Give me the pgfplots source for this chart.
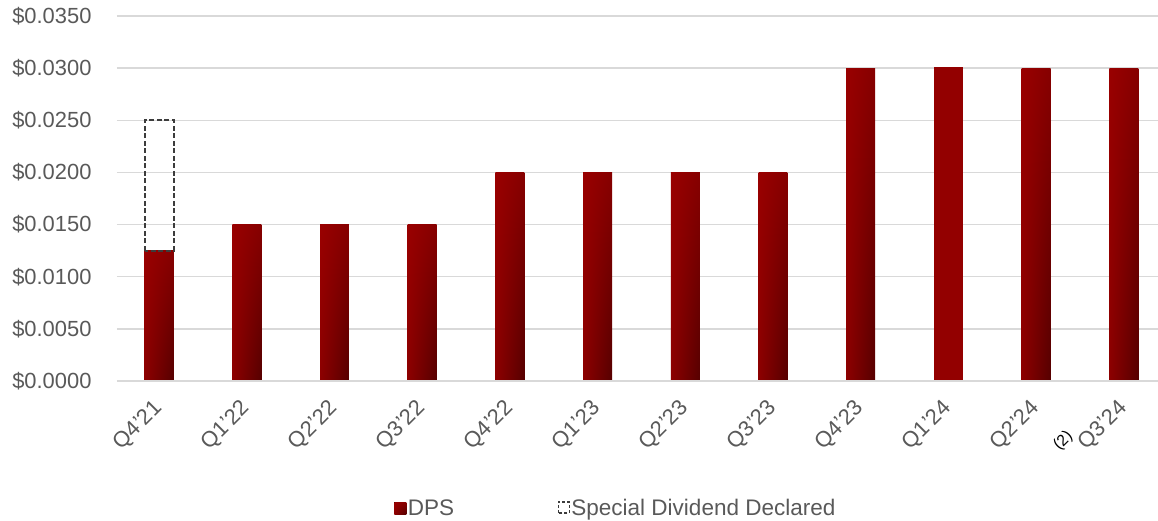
\documentclass[border=0pt]{standalone}
\usepackage{fontspec}
\setmainfont{Liberation Sans}
\usepackage{pgfplots}
\usepackage{pgfplotstable}
\pgfplotsset{compat=1.18}
\usetikzlibrary{shadings}

\definecolor{txtgray}{HTML}{595959}
\definecolor{gridgray}{HTML}{D9D9D9}
\definecolor{redA}{HTML}{990000}
\definecolor{redB}{HTML}{860000}
\definecolor{redC}{HTML}{8C0000}
\definecolor{redD}{HTML}{560000}
\definecolor{redFlat}{HTML}{930000}
\definecolor{dashgray}{HTML}{3C3C3C}

\tikzset{
  dpsbar/.style={draw=none, upper left=redA, upper right=redB, lower left=redC, lower right=redD},
  specialbox/.style={draw=dashgray, line width=2bp, dash pattern=on 5bp off 2.5bp},
}

% dividend per share by quarter (index 0 = Q4'21)
\pgfplotstableread{
x  y
0  0.0125
1  0.0150
2  0.0150
3  0.0150
4  0.0200
5  0.0200
6  0.0200
7  0.0200
8  0.0300
9  0.0301
10 0.0300
11 0.0300
}\dpsdata

\begin{document}
\begin{tikzpicture}
\path[use as bounding box] (-117bp,-140bp) rectangle (1041bp,381bp);
\begin{axis}[
  scale only axis,
  width=1041bp, height=365bp,
  xmin=-0.48, xmax=11.39,
  ymin=0, ymax=0.035,
  ytick={0,0.005,0.01,0.015,0.02,0.025,0.03,0.035},
  yticklabel={\$\pgfmathprintnumber[fixed,fixed zerofill,precision=4]{\tick}},
  /pgf/number format/assume math mode=true,
  scaled y ticks=false,
  xtick={0,...,11},
  xticklabels={Q4’21,Q1’22,Q2’22,Q3’22,Q4’22,Q1’23,Q2’23,Q3’23,Q4’23,Q1’24,Q2’24,Q3’24},
  xticklabel style={xshift=-7bp, yshift=-12bp, rotate=45, anchor=north east, font=\fontsize{22}{26}\selectfont, text=txtgray},
  yticklabel style={font=\fontsize{22}{26}\selectfont, text=txtgray, xshift=-22bp},
  axis line style={draw=none},
  major tick style={draw=none},
  ymajorgrids,
  major grid style={draw=gridgray, line width=1.5bp},
  bar width=0.33,
  clip=false,
  legend columns=2,
  legend style={at={(0.479,-0.348)}, anchor=center, draw=none, fill=none,
    font=\fontsize{22.6}{26}\selectfont, text=txtgray,
    nodes={inner sep=1.5bp},
    /tikz/every even column/.append style={column sep=102bp}},
]
\addlegendimage{legend image code/.code={\fill[dpsbar] (0bp,-6bp) rectangle (12bp,6bp);}}
\addlegendentry{DPS}
% one plot per bar so that every bar carries its own shading
\pgfplotsinvokeforeach{0,1,2,3,4,5,6,7,8,10,11}{
  \addplot[ybar, bar shift=0pt, dpsbar, forget plot]
    table[x=x, y=y, restrict x to domain=#1:#1] {\dpsdata};
}
\addplot[ybar, bar shift=0pt, draw=none, fill=redFlat, forget plot]
  table[x=x, y=y, restrict x to domain=9:9] {\dpsdata};
% special dividend on top of Q4'21
\addplot[specialbox, sharp plot,
  legend image code/.code={\draw[draw=dashgray, line width=1.3bp, dash pattern=on 3bp off 2bp] (0bp,-5bp) rectangle (11bp,6bp);}]
  coordinates {(-0.165,0.0125) (-0.165,0.025) (0.165,0.025) (0.165,0.0125) (-0.165,0.0125)};
\addlegendentry{Special Dividend Declared}
\draw[gridgray, line width=1.5bp] (axis cs:-0.48,0) -- (axis cs:11.39,0);
\node[yshift=-60bp, rotate=45, font=\fontsize{16}{18}\selectfont, text=black] at (axis cs:10.31,0) {(2)};
\end{axis}
\end{tikzpicture}
\end{document}
